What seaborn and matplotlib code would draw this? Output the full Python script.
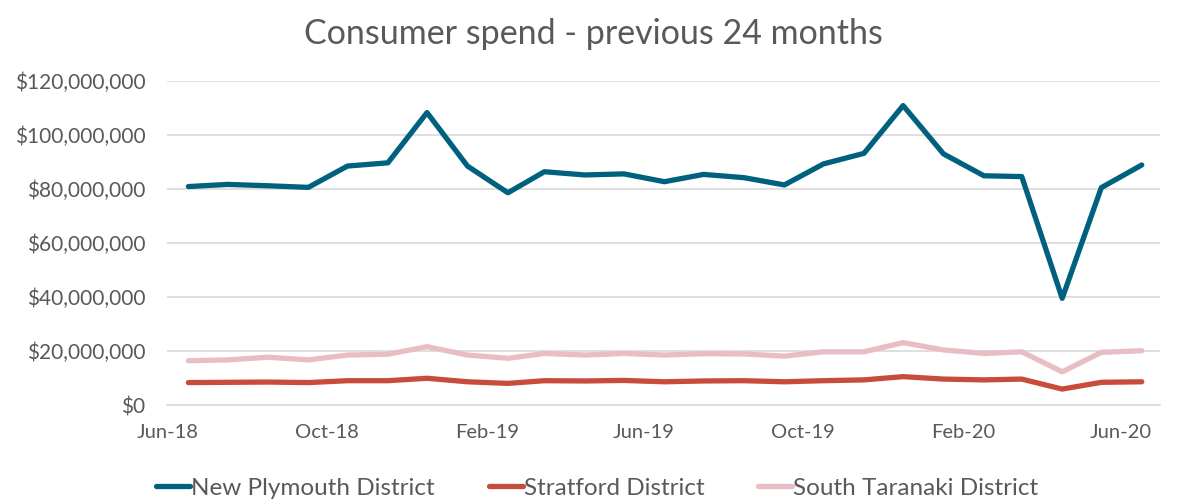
import pandas as pd
import numpy as np
import matplotlib.pyplot as plt
import matplotlib.dates as mdates
import matplotlib.ticker as mticker
import seaborn as sns

sns.set_style('white')
plt.rcParams['font.family'] = ['Lato', 'DejaVu Sans']

# Monthly consumer spend ($M), Jun-18 .. Jun-20, plotted mid-month
new_plymouth = [80.9, 81.7, 81.2, 80.6, 88.5, 89.7, 108.3, 88.5, 78.6, 86.4, 85.2, 85.6, 82.7,
                85.4, 84.2, 81.5, 89.3, 93.2, 110.9, 93.0, 84.9, 84.6, 39.5, 80.5, 88.9]
stratford = [8.3, 8.4, 8.5, 8.3, 9.0, 9.0, 9.9, 8.6, 8.0, 9.0, 8.9, 9.1, 8.6,
             8.9, 9.0, 8.6, 9.0, 9.3, 10.5, 9.6, 9.3, 9.6, 5.9, 8.4, 8.6]
south_taranaki = [16.4, 16.7, 17.7, 16.7, 18.5, 18.8, 21.6, 18.5, 17.3, 19.1, 18.5, 19.1, 18.5,
                  19.0, 18.9, 18.1, 19.7, 19.7, 23.1, 20.4, 19.1, 19.7, 12.3, 19.5, 20.1]
districts = ['New Plymouth District', 'Stratford District', 'South Taranaki District']
colors = ['#00617F', '#C94C3A', '#E8BDC3']

months = pd.date_range('2018-06-01', periods=25, freq='MS') + pd.Timedelta(days=16)

df = pd.DataFrame({
    'Month': np.tile(months, 3),
    'Spend': np.concatenate([new_plymouth, stratford, south_taranaki]) * 1e6,
    'District': np.repeat(districts, len(months)),
})

fig = plt.figure(figsize=(11.82, 5), dpi=100)
ax = fig.add_axes([0.1417, 0.19, 0.8397, 0.648])

sns.lineplot(data=df, x='Month', y='Spend', hue='District', hue_order=districts,
             palette=colors, linewidth=3.8, ax=ax, legend=True)
for line in ax.get_lines():
    line.set_solid_capstyle('round')

ax.set_ylim(0, 120e6)
ax.set_xlim(pd.Timestamp('2018-06-01'), pd.Timestamp('2020-07-01'))
ax.yaxis.set_major_locator(mticker.MultipleLocator(20e6))
ax.yaxis.set_major_formatter(mticker.FuncFormatter(lambda v, p: f'${v:,.0f}'))
ax.xaxis.set_major_locator(mdates.MonthLocator(bymonth=[2, 6, 10]))
ax.xaxis.set_major_formatter(mdates.DateFormatter('%b-%y'))

ax.grid(axis='y', color='#D9D9D9', linewidth=1.2)
ax.set_axisbelow(True)
for s in ['left', 'right', 'top']:
    ax.spines[s].set_visible(False)
ax.spines['bottom'].set_color('#D9D9D9')
ax.spines['bottom'].set_linewidth(1.2)

ax.tick_params(axis='y', length=0, pad=16, labelsize=15, labelcolor='#595959')
ax.tick_params(axis='x', direction='out', length=5, width=1.2, color='#D9D9D9',
               pad=9, labelsize=14.5, labelcolor='#595959')
ax.set_xlabel('')
ax.set_ylabel('')

fig.suptitle('Consumer spend - previous 24 months', x=0.502, y=0.965,
             fontsize=24.5, color='#595959')

ax.legend(loc='center', bbox_to_anchor=(0.433, -0.257), ncol=3, frameon=False,
          fontsize=17.5, labelcolor='#595959', handlelength=1.4, handletextpad=0.05,
          columnspacing=2.2)

plt.savefig('out.png', dpi=100)
